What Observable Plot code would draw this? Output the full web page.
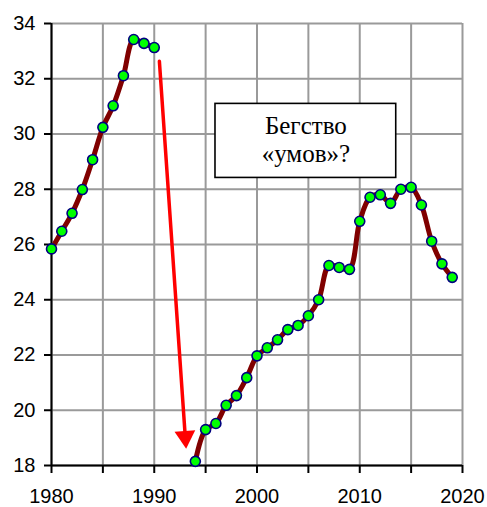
<!DOCTYPE html>
<html>
<head>
<meta charset="utf-8">
<script src="https://cdn.jsdelivr.net/npm/d3@7"></script>
<script src="https://cdn.jsdelivr.net/npm/@observablehq/plot@0.6"></script>
<style>
  html, body { margin: 0; padding: 0; background: #fff; }
  #chart { width: 487px; height: 507px; }
</style>
</head>
<body>
<div id="chart"></div>
<script>
const years = [1980, 1981, 1982, 1983, 1984, 1985, 1986, 1987, 1988, 1989, 1990,
  1994, 1995, 1996, 1997, 1998, 1999, 2000, 2001, 2002, 2003, 2004, 2005, 2006,
  2007, 2008, 2009, 2010, 2011, 2012, 2013, 2014, 2015, 2016, 2017, 2018, 2019];
const values = [25.84, 26.48, 27.13, 27.99, 29.07, 30.24, 31.02, 32.11, 33.42, 33.28, 33.13,
  18.15, 19.30, 19.52, 20.18, 20.53, 21.18, 21.97, 22.26, 22.55, 22.92, 23.07, 23.42, 24.00,
  25.24, 25.17, 25.10, 26.84, 27.71, 27.80, 27.49, 28.00, 28.07, 27.43, 26.12, 25.30, 24.81];
const segments = years.map(y => (y <= 1990 ? "before" : "after"));

const xTicks = [1980, 1985, 1990, 1995, 2000, 2005, 2010, 2015, 2020];
const yTicks = [18, 20, 22, 24, 26, 28, 30, 32, 34];

const arrowFrom = [1990.5, 32.63];
const arrowTo = [1993.1, 18.6];

const noteLines = ["Бегство", "«умов»?"];
const noteBox = {x1: 1995.96, x2: 2013.55, y1: 28.41, y2: 31.09};

const data = years.map((y, i) => ({year: y, value: values[i], segment: segments[i]}));
const arrowData = [{x1: arrowFrom[0], y1: arrowFrom[1], x2: arrowTo[0], y2: arrowTo[1]}];
const noteData = [{...noteBox, cx: (noteBox.x1 + noteBox.x2) / 2, cy: (noteBox.y1 + noteBox.y2) / 2, text: noteLines.join("\n")}];

const chart = Plot.plot({
  width: 487,
  height: 507,
  marginLeft: 51,
  marginRight: 25,
  marginTop: 23,
  marginBottom: 42,
  style: {fontFamily: "Liberation Sans, Arial, sans-serif", background: "#fff", color: "#000"},
  x: {domain: [1980, 2020], label: null},
  y: {domain: [18, 34], label: null},
  marks: [
    Plot.gridX(xTicks, {stroke: "#9a9a9a", strokeOpacity: 1, strokeWidth: 2}),
    Plot.gridY(yTicks, {stroke: "#9a9a9a", strokeOpacity: 1, strokeWidth: 2}),
    Plot.axisX(xTicks, {
      tickFormat: d => (d % 10 === 0 ? String(d) : ""),
      tickSize: 8, tickPadding: 15, fontSize: 20, strokeWidth: 2, label: null
    }),
    Plot.axisY(yTicks, {
      tickFormat: d => String(d),
      tickSize: 7, tickPadding: 9, fontSize: 20, strokeWidth: 2, label: null
    }),
    Plot.ruleX([1980], {stroke: "#000", strokeWidth: 2}),
    Plot.ruleY([18], {stroke: "#000", strokeWidth: 2}),
    Plot.rect(noteData, {x1: "x1", x2: "x2", y1: "y1", y2: "y2", fill: "#fff", stroke: "#000", strokeWidth: 1.6}),
    Plot.text(noteData, {
      x: "cx", y: "cy", text: "text", fontFamily: "Liberation Serif, Times New Roman, serif",
      fontSize: 25, lineHeight: 1.14, fill: "#000", lineAnchor: "middle", dy: -2
    }),
    Plot.arrow(arrowData, {
      x1: "x1", y1: "y1", x2: "x2", y2: "y2", stroke: "#ff0000", strokeWidth: 3.5,
      headLength: 0, insetEnd: 15
    }),
    Plot.dot(arrowData, {
      x: "x2", y: "y2", symbol: "triangle", r: 7.7, rotate: 176, fill: "#ff0000",
      stroke: "none", dx: -0.8, dy: -12
    }),
    Plot.line(data, {
      x: "year", y: "value", z: "segment", curve: "catmull-rom",
      stroke: "#800000", strokeWidth: 5
    }),
    Plot.dot(data, {
      x: "year", y: "value", r: 5, fill: "#00ff00", stroke: "#000080", strokeWidth: 1.6
    })
  ]
});
document.getElementById("chart").appendChild(chart);
</script>
</body>
</html>
